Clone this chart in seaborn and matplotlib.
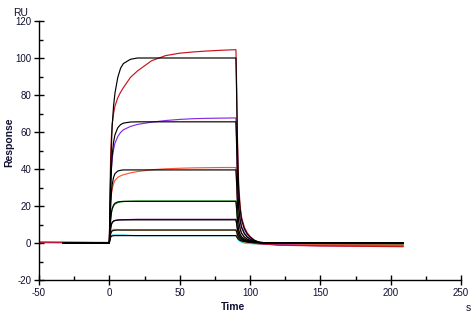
import matplotlib
matplotlib.use("Agg")
import matplotlib.pyplot as plt
import seaborn as sns
from matplotlib.ticker import MultipleLocator

sns.set_theme(style="ticks")
plt.rcParams['font.family'] = ['Liberation Sans', 'DejaVu Sans']

# ---- data ----
time_measured = [-50, 0, 0.5, 1, 1.5, 2, 3, 4, 6, 8, 10, 15, 20, 30, 40, 50, 60, 70, 80, 90,
                 90.5, 91, 91.5, 92, 93, 94, 96, 98, 100, 103, 106, 110, 120, 150, 180, 209]
time_fit = [-33, 0, 0.5, 1, 1.5, 2, 3, 4, 6, 8, 10, 15, 20, 30, 40, 50, 60, 70, 80, 90,
            90.5, 91, 91.5, 92, 93, 94, 96, 98, 100, 103, 106, 110, 120, 150, 180, 209]

measured_1 = [0.4, 0.3, 30, 48, 58, 64, 70, 74, 78.5, 81.5, 84, 89.5, 93, 98.5, 101.3, 102.6, 103.3, 103.8, 104.2, 104.5,
              85, 60, 43, 31, 20, 14, 8.5, 5.5, 3.6, 1.6, 0.5, -0.5, -1.2, -1.6, -1.8, -2.0]
measured_2 = [0.3, 0.2, 20, 34, 41, 45.5, 50.5, 54, 57.5, 59.8, 61.2, 63, 64.1, 65.3, 66.2, 66.8, 67.2, 67.4, 67.5, 67.6,
              56, 39, 28, 20, 13, 9, 5.5, 3.5, 2.3, 1.0, 0.2, -0.5, -1.0, -1.5, -1.6, -1.7]
measured_3 = [0.3, 0.2, 13, 22, 26.5, 29, 32, 33.8, 35.5, 36.3, 36.9, 37.9, 38.6, 39.6, 40.1, 40.4, 40.6, 40.7, 40.8, 40.8,
              33, 23, 16.5, 12, 8, 5.5, 3.3, 2.1, 1.3, 0.5, 0.0, -0.4, -0.8, -1.0, -1.1, -1.2]
measured_4 = [0.3, 0.2, 8, 13.5, 16.5, 18.2, 20, 21, 21.8, 22.2, 22.4, 22.6, 22.7, 22.7, 22.7, 22.7, 22.7, 22.7, 22.7, 22.7,
              18, 12.5, 9, 6.5, 4.2, 3.0, 1.8, 1.1, 0.6, 0.2, -0.1, -0.3, -0.4, -0.5, -0.5, -0.6]
measured_5 = [0.3, 0.2, 5, 8.5, 10.2, 11, 11.8, 12.1, 12.4, 12.5, 12.6, 12.7, 12.8, 12.8, 12.8, 12.8, 12.8, 12.8, 12.8, 12.8,
              10.5, 7.5, 5.6, 4.3, 2.9, 2.1, 1.2, 0.7, 0.3, -0.1, -0.4, -0.6, -0.8, -1.0, -1.0, -1.1]
measured_6 = [0.3, 0.2, 3.5, 5.8, 6.8, 7.2, 7.4, 7.4, 7.3, 7.2, 7.1, 7.1, 7.1, 7.1, 7.1, 7.1, 7.1, 7.1, 7.1, 7.1,
              6.0, 4.3, 3.2, 2.5, 1.6, 1.1, 0.5, 0.1, -0.1, -0.3, -0.4, -0.5, -0.6, -0.6, -0.7, -0.7]
measured_7 = [0.3, 0.2, 2.5, 3.6, 4.0, 4.2, 4.3, 4.3, 4.3, 4.3, 4.3, 4.1, 4.0, 4.0, 4.0, 4.0, 4.0, 4.0, 4.0, 4.0,
              3.4, 2.6, 2.0, 1.5, 0.9, 0.5, 0.0, -0.2, -0.3, -0.4, -0.4, -0.4, -0.4, -0.3, -0.3, -0.3]

fit_1 = [0, 0, 22, 40, 53, 63, 74, 81, 89.5, 94.5, 97, 99.3, 100, 100, 100, 100, 100, 100, 100, 100,
         80, 56, 39, 28, 18, 12.5, 7.5, 4.8, 3.2, 1.5, 0.6, 0.2, 0, 0, 0, 0]
fit_2 = [0, 0, 15, 29, 40, 47, 54.5, 58.5, 62.3, 64, 64.8, 65.4, 65.5, 65.5, 65.5, 65.5, 65.5, 65.5, 65.5, 65.5,
         52, 36, 25.5, 18.5, 12, 8.3, 5, 3.2, 2.1, 1.0, 0.4, 0.1, 0, 0, 0, 0]
fit_3 = [0, 0, 11, 21, 27.5, 31.5, 35.5, 37.5, 38.9, 39.3, 39.5, 39.5, 39.5, 39.5, 39.5, 39.5, 39.5, 39.5, 39.5, 39.5,
         32, 22, 15.5, 11.5, 7.5, 5.2, 3.2, 2.1, 1.4, 0.7, 0.3, 0.1, 0, 0, 0, 0]
fit_4 = [0, 0, 7, 13, 16.5, 18.5, 20.5, 21.5, 22.2, 22.4, 22.5, 22.5, 22.5, 22.5, 22.5, 22.5, 22.5, 22.5, 22.5, 22.5,
         18.5, 13, 9.5, 7, 4.7, 3.4, 2.2, 1.5, 1.0, 0.5, 0.2, 0.1, 0, 0, 0, 0]
fit_5 = [0, 0, 4.5, 8, 10, 11, 11.9, 12.2, 12.4, 12.5, 12.5, 12.5, 12.5, 12.5, 12.5, 12.5, 12.5, 12.5, 12.5, 12.5,
         10.5, 7.8, 6, 4.7, 3.3, 2.5, 1.6, 1.1, 0.8, 0.4, 0.2, 0.1, 0, 0, 0, 0]
fit_6 = [0, 0, 3, 5, 6, 6.5, 6.8, 6.9, 7, 7, 7, 7, 7, 7, 7, 7, 7, 7, 7, 7,
         6, 4.6, 3.7, 3, 2.2, 1.7, 1.1, 0.8, 0.6, 0.35, 0.2, 0.1, 0, 0, 0, 0]
fit_7 = [0, 0, 2, 3.2, 3.6, 3.8, 3.95, 4, 4, 4, 4, 4, 4, 4, 4, 4, 4, 4, 4, 4,
         3.5, 2.8, 2.3, 1.9, 1.4, 1.1, 0.75, 0.5, 0.4, 0.25, 0.15, 0.05, 0, 0, 0, 0]

measured_series = [measured_1, measured_2, measured_3, measured_4, measured_5, measured_6, measured_7]
fit_series = [fit_1, fit_2, fit_3, fit_4, fit_5, fit_6, fit_7]
measured_colors = ["#c8141e", "#8a2be2", "#ff5533", "#10b010", "#800090", "#ffa000", "#00c8d0"]

x_ticks = [-50, 0, 50, 100, 150, 200, 250]
y_ticks = [-20, 0, 20, 40, 60, 80, 100, 120]

# ---- figure ----
fig = plt.figure(figsize=(4.73, 3.15), dpi=100)
ax = fig.add_axes([39 / 473, 1 - 280 / 315, (461 - 39) / 473, (280 - 21) / 315])

# smallest concentration first so the top (red) trace ends up drawn last
for vals, col in list(zip(measured_series, measured_colors))[::-1]:
    sns.lineplot(x=time_measured, y=vals, color=col, lw=0.85, ax=ax, sort=False, estimator=None)
for vals in fit_series[::-1]:
    sns.lineplot(x=time_fit, y=vals, color="black", lw=0.85, ax=ax, sort=False, estimator=None)

ax.set_xlim(-50, 250)
ax.set_ylim(-20, 120)
ax.set_xticks(x_ticks)
ax.set_yticks(y_ticks)
ax.xaxis.set_minor_locator(MultipleLocator(25))
ax.yaxis.set_minor_locator(MultipleLocator(10))
ax.tick_params(which="major", direction="inout", length=7, width=1, colors="black",
               labelsize=7, pad=2, labelcolor="#101030")
ax.tick_params(which="minor", direction="in", length=3, width=1, colors="black")
ax.set_xticklabels([str(v) for v in x_ticks])
ax.set_yticklabels([str(v) for v in y_ticks])
for s in ["top", "right"]:
    ax.spines[s].set_visible(False)
for s in ["left", "bottom"]:
    ax.spines[s].set_color("black")
    ax.spines[s].set_linewidth(1)
ax.set_xlabel("")
ax.set_ylabel("")
ax.set_facecolor("white")
fig.patch.set_facecolor("white")

fig.text(13 / 473, 1 - 13 / 315, "RU", fontsize=7.5, ha="left", va="center", color="#101030")
fig.text(9 / 473, 1 - 142 / 315, "Response", fontsize=7.5, fontweight="bold", rotation=90,
         ha="center", va="center", color="#101030")
fig.text(233 / 473, 1 - 307 / 315, "Time", fontsize=7.5, fontweight="bold",
         ha="center", va="center", color="#101030")
fig.text(468 / 473, 1 - 308 / 315, "s", fontsize=7.5, ha="center", va="center", color="#101030")

fig.savefig("out.png", dpi=100)
